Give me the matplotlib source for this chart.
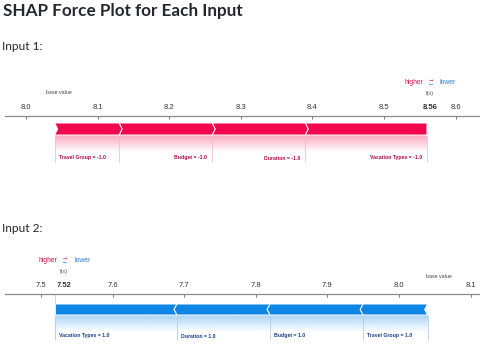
import numpy as np
import matplotlib
matplotlib.use("Agg")
import matplotlib.pyplot as plt
from matplotlib.patches import Polygon

# ---------------- data ----------------
features = ["Travel Group", "Budget", "Duration", "Vacation Types"]
base_value = 8.04

input1_feature_values = [-1.0, -1.0, -1.0, -1.0]
input1_shap = [0.09, 0.13, 0.13, 0.17]
input1_fx = 8.56
input1_ticks = [8.0, 8.1, 8.2, 8.3, 8.4, 8.5, 8.6]

input2_feature_values = [1.0, 1.0, 1.0, 1.0]
input2_shap = [-0.09, -0.13, -0.13, -0.17]
input2_fx = 7.52
input2_ticks = [7.5, 7.6, 7.7, 7.8, 7.9, 8.0, 8.1]

# ---------------- style ----------------
W, H = 480, 347
RED = "#f2074f"
BLUE = "#0f86e6"
RED_TXT = "#a80a40"
BLUE_TXT = "#17408a"
PX_PER_UNIT = 716.0
FONT = "Liberation Sans"

fig = plt.figure(figsize=(W / 100, H / 100), dpi=100)
fig.patch.set_facecolor("white")

fig.text(3 / W, 1 - 11 / H, "SHAP Force Plot for Each Input", family="Lato",
         fontsize=12.3, fontweight="bold", va="center", ha="left", color="#262730")
fig.text(2 / W, 1 - 47 / H, "Input 1:", family="Lato", fontsize=8.6,
         va="center", ha="left", color="#262730")
fig.text(2 / W, 1 - 228 / H, "Input 2:", family="Lato", fontsize=8.6,
         va="center", ha="left", color="#262730")


def force_plot(top, bottom, tick_anchor_val, tick_anchor_px, ticks, fx, shap_vals,
               feat_vals, axis_y, bar_top, bar_bot, label_y, fx_offset,
               base_offset, label_aligns, positive):
    ax = fig.add_axes([0, 1 - bottom / H, 1, (bottom - top) / H])
    left = tick_anchor_val - tick_anchor_px / PX_PER_UNIT
    right = left + W / PX_PER_UNIT
    ax.set_xlim(left, right)
    ax.set_ylim(bottom, top)
    ax.patch.set_alpha(0)
    for s in ["left", "right", "bottom"]:
        ax.spines[s].set_visible(False)
    ax.spines["top"].set_position(("data", axis_y))
    ax.spines["top"].set_bounds(left + 5 / PX_PER_UNIT, right)
    ax.spines["top"].set_color("#8a8a8a")
    ax.spines["top"].set_linewidth(0.9)
    ax.yaxis.set_visible(False)
    ax.xaxis.set_ticks_position("top")
    ax.set_xticks(ticks, [f"{t:.1f}" for t in ticks])
    ax.tick_params(axis="x", direction="in", length=2.5, width=0.7, color="#777",
                   pad=3.5, labelsize=5.5, labelcolor="#333")
    for lbl in ax.get_xticklabels():
        lbl.set_family(FONT)

    d = 3.0 / PX_PER_UNIT
    mid = (bar_top + bar_bot) / 2
    color = RED if positive else BLUE
    txt_color = RED_TXT if positive else BLUE_TXT
    line_color = "#eec3d0" if positive else "#b9cfe6"

    n = len(shap_vals)
    order = sorted(range(n), key=lambda i: (-abs(shap_vals[i]), -i))  # largest nearest f(x)
    pos = fx
    segs = []
    for k, i in enumerate(order):
        v = abs(shap_vals[i])
        if positive:
            a, b = pos - v, pos
            pos = a
        else:
            a, b = pos, pos + v
            pos = b
        segs.append((i, a, b, k))

    grad = np.zeros((64, 1, 4))
    rgb = matplotlib.colors.to_rgb(color)
    grad[:, 0, :3] = rgb
    grad[:, 0, 3] = np.linspace(0.36, 0.0, 64)

    for i, a, b, k in segs:
        first = (k == 0)  # adjacent to f(x)
        if positive:
            right_pts = [(b, bar_top), (b, bar_bot)] if first else \
                [(b, bar_top), (b + d, mid), (b, bar_bot)]
            left_pts = [(a, bar_bot), (a + d, mid), (a, bar_top)]
        else:
            left_pts = [(a, bar_bot), (a, bar_top)] if first else \
                [(a, bar_bot), (a - d, mid), (a, bar_top)]
            right_pts = [(b, bar_top), (b - d, mid), (b, bar_bot)]
        poly = Polygon(right_pts + left_pts, closed=True, facecolor=color,
                       edgecolor="white", linewidth=0.7, zorder=3)
        ax.add_patch(poly)
        ax.imshow(grad, extent=(a, b, bar_bot + 17, bar_bot), aspect="auto",
                  interpolation="bilinear", zorder=1)
        # label
        name = f"{features[i]} = {feat_vals[i]:.1f}"
        align = label_aligns[i]
        if align == "left":
            ax.annotate(name, xy=(a, label_y), xytext=(4, 0),
                        textcoords="offset pixels", ha="left", va="center",
                        fontsize=3.7, fontweight="bold", color=txt_color,
                        family=FONT, zorder=4)
        else:
            ax.annotate(name, xy=(b, label_y), xytext=(-5, 0),
                        textcoords="offset pixels", ha="right", va="center",
                        fontsize=3.7, fontweight="bold", color=txt_color,
                        family=FONT, zorder=4)
    bounds = sorted(set([s[1] for s in segs] + [s[2] for s in segs]))
    ax.vlines(bounds, bar_bot, label_y + 4, color=line_color, lw=0.6, zorder=2)
    if not positive:
        ax.vlines([fx], axis_y, label_y + 4, color="#f0bccb", lw=0.6, zorder=2)

    # f(x) label, higher/lower legend, base value
    ax.annotate(f"{fx:.2f}", xy=(fx, axis_y), xytext=(fx_offset, 8.5),
                textcoords="offset pixels", ha="center", va="center",
                fontsize=5.5, fontweight="bold", color="#333", family=FONT)
    ax.annotate("f(x)", xy=(fx, axis_y), xytext=(fx_offset, 23),
                textcoords="offset pixels", ha="center", va="center",
                fontsize=4.0, color="#555", family=FONT)
    ax.annotate("higher", xy=(fx, axis_y), xytext=(fx_offset - 7, 33),
                textcoords="offset pixels", ha="right", va="center",
                fontsize=4.9, color="#d0134f", family=FONT)
    ax.annotate("lower", xy=(fx, axis_y), xytext=(fx_offset + 10, 33),
                textcoords="offset pixels", ha="left", va="center",
                fontsize=4.9, color="#2b7fd0", family=FONT)
    ax.annotate("\u2192", xy=(fx, axis_y), xytext=(fx_offset + 1, 35),
                textcoords="offset pixels", ha="center", va="center",
                fontsize=3.6, color="#d0134f", family="DejaVu Sans")
    ax.annotate("\u2190", xy=(fx, axis_y), xytext=(fx_offset + 1, 31),
                textcoords="offset pixels", ha="center", va="center",
                fontsize=3.6, color="#2b7fd0", family="DejaVu Sans")
    ax.annotate("base value", xy=(base_value, axis_y), xytext=(base_offset, 23 if positive else 17),
                textcoords="offset pixels", ha="center", va="center",
                fontsize=3.8, color="#444", family=FONT)
    ax.set_xlim(left, right)
    ax.set_ylim(bottom, top)
    return ax


force_plot(70, 175, 8.0, 26, input1_ticks, input1_fx, input1_shap,
           input1_feature_values, axis_y=116, bar_top=123, bar_bot=135,
           label_y=158, fx_offset=3, base_offset=4,
           label_aligns=["left", "right", "right", "right"], positive=True)
force_plot(250, 347, 7.5, 41, input2_ticks, input2_fx, input2_shap,
           input2_feature_values, axis_y=294, bar_top=304, bar_bot=315,
           label_y=336, fx_offset=9, base_offset=11,
           label_aligns=["left", "left", "left", "left"], positive=False)

fig.savefig("out.png", dpi=100, facecolor="white")
